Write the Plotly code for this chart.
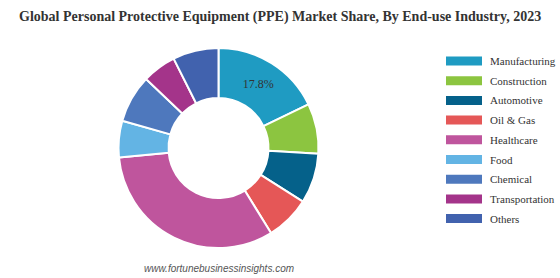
import plotly.graph_objects as go

categories = ["Manufacturing", "Construction", "Automotive", "Oil & Gas", "Healthcare",
              "Food", "Chemical", "Transportation", "Others"]
shares = [17.8, 8.1, 8.1, 7.2, 32.3, 5.9, 7.7, 5.5, 7.4]
labels_shown = ["17.8%", "", "", "", "", "", "", "", ""]
colors = ["#1f9bc2", "#8cc540", "#05618a", "#e55757", "#bf559d",
          "#63b4e4", "#4e78bd", "#a4348a", "#4162ae"]

W, H = 560, 278
cx, cy, r = 218.5, 148, 100

fig = go.Figure()
fig.add_trace(go.Pie(
    labels=categories, values=shares, text=labels_shown, textinfo="text",
    textposition="inside", insidetextorientation="horizontal",
    hole=0.5, sort=False, direction="clockwise", rotation=0,
    marker=dict(colors=colors, line=dict(color="white", width=2)),
    textfont=dict(family="Liberation Serif", size=12, color="#333333"),
    domain=dict(x=[(cx - r) / W, (cx + r) / W], y=[(H - cy - r) / H, (H - cy + r) / H]),
    showlegend=False, hoverinfo="label+percent",
))

shapes = []
annotations = []
y0 = 61
step = 19.7
for i, (cat, col) in enumerate(zip(categories, colors)):
    yc = y0 + i * step
    shapes.append(dict(type="rect", xref="paper", yref="paper",
                       x0=446 / W, x1=482 / W, y0=(H - yc - 4.5) / H, y1=(H - yc + 4.5) / H,
                       fillcolor=col, line=dict(width=0)))
    annotations.append(dict(text=cat, xref="paper", yref="paper", x=488 / W, y=(H - yc) / H,
                            xanchor="left", yanchor="middle", showarrow=False,
                            font=dict(family="Liberation Serif", size=11, color="#333333")))

annotations.append(dict(text="<b>Global Personal Protective Equipment (PPE) Market Share, By End-use Industry, 2023</b>",
                        xref="paper", yref="paper", x=280 / W, y=(H - 17) / H,
                        xanchor="center", yanchor="middle", showarrow=False,
                        font=dict(family="Liberation Serif", size=14, color="#333333")))
annotations.append(dict(text="<i>www.fortunebusinessinsights.com</i>",
                        xref="paper", yref="paper", x=219 / W, y=(H - 268) / H,
                        xanchor="center", yanchor="middle", showarrow=False,
                        font=dict(family="Liberation Sans", size=10, color="#555555")))

fig.update_layout(width=W, height=H, margin=dict(l=0, r=0, t=0, b=0),
                  paper_bgcolor="white", plot_bgcolor="white",
                  shapes=shapes, annotations=annotations)
fig.write_html("out.html")
